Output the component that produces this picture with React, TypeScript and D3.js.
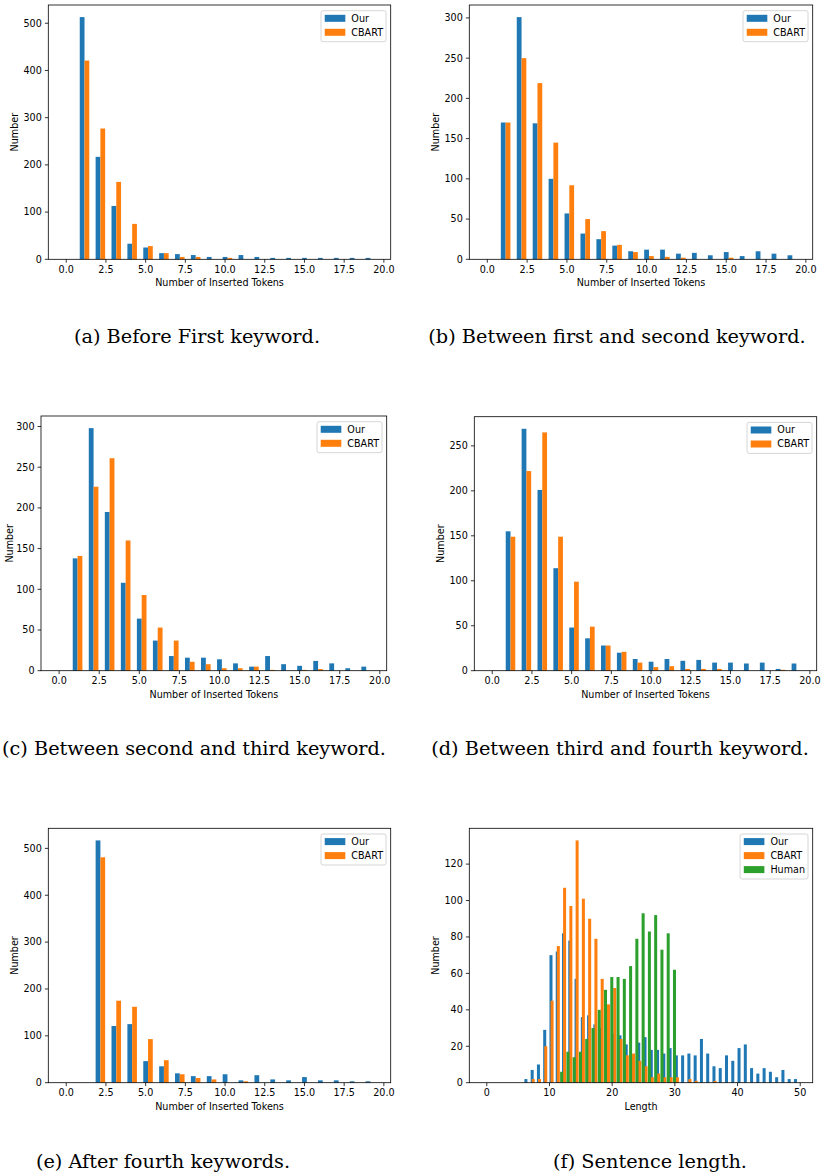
import React, { useEffect, useRef } from "react";
import * as d3 from "d3";

// number of inserted tokens (x categories for panels a-e)
const tokens = [0, 1, 2, 3, 4, 5, 6, 7, 8, 9, 10, 11, 12, 13, 14, 15, 16, 17, 18, 19];

const beforeFirstOur = [0, 513, 217, 113, 33, 25, 13, 11, 9, 5, 5, 9, 5, 3, 3, 3, 3, 3, 3, 3];
const beforeFirstCbart = [0, 421, 277, 164, 75, 28, 13, 5, 5, 0, 3, 0, 0, 0, 0, 0, 0, 0, 0, 0];

const firstSecondOur = [0, 170, 301, 169, 100, 57, 32, 25, 17, 10, 12, 12, 7, 8, 5, 9, 4, 10, 7, 5];
const firstSecondCbart = [0, 170, 250, 219, 145, 92, 50, 35, 18, 9, 4, 3, 2, 0, 0, 2, 0, 0, 0, 0];

const secondThirdOur = [0, 138, 298, 195, 108, 64, 37, 18, 16, 16, 14, 9, 5, 18, 8, 6, 12, 9, 3, 5];
const secondThirdCbart = [0, 141, 226, 261, 160, 93, 53, 37, 11, 8, 3, 3, 5, 1, 0, 1, 2, 0, 0, 0];

const thirdFourthOur = [0, 155, 269, 201, 114, 48, 36, 28, 20, 13, 10, 13, 11, 12, 9, 9, 8, 9, 2, 8];
const thirdFourthCbart = [0, 149, 222, 265, 149, 99, 49, 28, 21, 9, 4, 5, 2, 2, 2, 0, 0, 0, 1, 0];

const afterFourthOur = [0, 0, 517, 121, 125, 46, 35, 20, 14, 14, 18, 5, 16, 7, 5, 12, 5, 5, 3, 3];
const afterFourthCbart = [0, 0, 481, 175, 162, 93, 48, 18, 10, 7, 0, 3, 0, 0, 0, 0, 0, 0, 0, 0];

// sentence length bins (panel f)
const lengths = [
  0, 1, 2, 3, 4, 5, 6, 7, 8, 9, 10, 11, 12, 13, 14, 15, 16, 17, 18, 19, 20, 21, 22, 23, 24,
  25, 26, 27, 28, 29, 30, 31, 32, 33, 34, 35, 36, 37, 38, 39, 40, 41, 42, 43, 44, 45, 46, 47, 48, 49,
];
const lengthOur = [
  0, 0, 0, 0, 0, 0, 2, 7, 10, 29, 70, 72, 82, 78, 57, 36, 37, 32, 30, 28, 27, 26, 21, 14, 22,
  25, 18, 18, 16, 19, 15, 15, 16, 15, 24, 16, 9, 8, 15, 12, 19, 21, 8, 5, 8, 6, 3, 7, 2, 2,
];
const lengthCbart = [
  0, 0, 0, 0, 0, 0, 0, 2, 2, 20, 45, 75, 107, 97, 133, 101, 90, 79, 57, 43, 52, 24, 15, 16, 12,
  9, 3, 5, 3, 3, 3, 0, 2, 1, 0, 0, 1, 0, 0, 0, 0, 0, 0, 0, 0, 0, 0, 0, 0, 0,
];
const lengthHuman = [
  0, 0, 0, 0, 0, 0, 0, 0, 0, 0, 0, 0, 6, 17, 14, 17, 24, 30, 40, 51, 58, 58, 57, 64, 79,
  93, 83, 92, 73, 82, 62, 0, 0, 0, 0, 0, 0, 0, 0, 0, 0, 0, 0, 0, 0, 0, 0, 0, 0, 0,
];

const tokenTicks = [0, 2.5, 5, 7.5, 10, 12.5, 15, 17.5, 20];
const lengthTicks = [0, 10, 20, 30, 40, 50];
const ticks500 = [0, 100, 200, 300, 400, 500];
const ticks300 = [0, 50, 100, 150, 200, 250, 300];
const ticks250 = [0, 50, 100, 150, 200, 250];
const ticks120 = [0, 20, 40, 60, 80, 100, 120];

const BLUE = "#1f77b4";
const ORANGE = "#ff7f0e";
const GREEN = "#2ca02c";
const SANS = "DejaVu Sans, sans-serif";
const FS = 9.6;

const tokenPanels = [
  { our: beforeFirstOur, cbart: beforeFirstCbart, yTicks: ticks500, caption: "(a) Before First keyword.",
    box: [48.3, 390.7, 5, 259.3], capX: 197, capY: 336, yLabOff: 34 },
  { our: firstSecondOur, cbart: firstSecondCbart, yTicks: ticks300, caption: "(b) Between first and second keyword.",
    box: [469.3, 812.7, 5, 259.3], capX: 617, capY: 336, yLabOff: 34 },
  { our: secondThirdOur, cbart: secondThirdCbart, yTicks: ticks300, caption: "(c) Between second and third keyword.",
    box: [41, 386.7, 416, 670.7], capX: 194, capY: 748, yLabOff: 31 },
  { our: thirdFourthOur, cbart: thirdFourthCbart, yTicks: ticks250, caption: "(d) Between third and fourth keyword.",
    box: [474.3, 816.7, 416.7, 670.7], capX: 620, capY: 748, yLabOff: 34 },
  { our: afterFourthOur, cbart: afterFourthCbart, yTicks: ticks500, caption: "(e) After fourth keywords.",
    box: [48.3, 390.7, 828.3, 1082.7], capX: 163, capY: 1161, yLabOff: 34 },
];

function frameAndAxes(g, x, y, box, xTicks, xFmt, yTicks, xLabel, yLabOff) {
  const [l, r, t, b] = box;
  g.append("rect").attr("x", l).attr("y", t).attr("width", r - l).attr("height", b - t)
    .attr("fill", "none").attr("stroke", "#000").attr("stroke-width", 0.8);

  const xt = g.append("g");
  xTicks.forEach((v) => {
    xt.append("line").attr("x1", x(v)).attr("x2", x(v)).attr("y1", b).attr("y2", b + 3.4)
      .attr("stroke", "#000").attr("stroke-width", 0.8);
    xt.append("text").attr("x", x(v)).attr("y", b + 6.5).attr("dy", "0.71em")
      .attr("text-anchor", "middle").attr("font-size", FS).attr("font-family", SANS).text(xFmt(v));
  });
  const yt = g.append("g");
  yTicks.forEach((v) => {
    yt.append("line").attr("x1", l - 3.4).attr("x2", l).attr("y1", y(v)).attr("y2", y(v))
      .attr("stroke", "#000").attr("stroke-width", 0.8);
    yt.append("text").attr("x", l - 6.5).attr("y", y(v)).attr("dy", "0.35em")
      .attr("text-anchor", "end").attr("font-size", FS).attr("font-family", SANS).text(v);
  });
  g.append("text").attr("x", (l + r) / 2).attr("y", b + 20).attr("dy", "0.71em")
    .attr("text-anchor", "middle").attr("font-size", FS).attr("font-family", SANS).text(xLabel);
  g.append("text").attr("transform", `translate(${l - yLabOff}, ${(t + b) / 2}) rotate(-90)`)
    .attr("dy", "0.35em").attr("text-anchor", "middle").attr("font-size", FS)
    .attr("font-family", SANS).text("Number");
}

function legend(g, box, items) {
  const [, r, t] = box;
  const lg = g.append("g");
  const frame = lg.append("rect");
  const texts = [];
  items.forEach((it, i) => {
    lg.append("rect").attr("class", "patch").attr("y", t + 5.7 + 7.6 + i * 14 - 3.5)
      .attr("width", 20.6).attr("height", 7).attr("fill", it.color);
    texts.push(lg.append("text").attr("y", t + 5.7 + 7.6 + i * 14).attr("dy", "0.35em")
      .attr("font-size", FS).attr("font-family", SANS).text(it.label));
  });
  const tw = d3.max(texts, (s) => s.node().getComputedTextLength());
  const w = 30.3 + tw + 3;
  const left = r - 4.7 - w;
  frame.attr("x", left).attr("y", t + 5.7).attr("width", w).attr("height", 3 + items.length * 14)
    .attr("rx", 2).attr("fill", "#fff").attr("fill-opacity", 0.8)
    .attr("stroke", "#ccc").attr("stroke-width", 0.8);
  lg.selectAll("rect.patch").attr("x", left + 3.7);
  texts.forEach((s) => s.attr("x", left + 30.3));
}

function caption(svg, x, y, text) {
  svg.append("text").attr("x", x).attr("y", y).attr("dy", "0.35em").attr("text-anchor", "middle")
    .attr("font-size", 19.3).attr("font-family", "DejaVu Serif, serif").text(text);
}

export default function App() {
  const ref = useRef(null);

  useEffect(() => {
    const svg = d3.select(ref.current);
    svg.selectAll("*").remove();

    // token-count panels: two bars of width 0.3 per integer, blue centred on it
    const bw = 0.3;
    tokenPanels.forEach((p) => {
      const [l, r, t, b] = p.box;
      const lo = d3.min(tokens) - bw / 2;
      const hi = d3.max(tokens) + bw + bw / 2;
      const pad = (hi - lo) * 0.05;
      const x = d3.scaleLinear().domain([lo - pad, hi + pad]).range([l, r]);
      const yMax = d3.max([...p.our, ...p.cbart]) * 1.05;
      const y = d3.scaleLinear().domain([0, yMax]).range([b, t]);
      const g = svg.append("g");
      g.selectAll("rect.our").data(tokens).join("rect").attr("class", "our")
        .attr("x", (d) => x(d - bw / 2)).attr("width", (d) => x(d + bw / 2) - x(d - bw / 2))
        .attr("y", (d, i) => y(p.our[i])).attr("height", (d, i) => y(0) - y(p.our[i]))
        .attr("fill", BLUE);
      g.selectAll("rect.cbart").data(tokens).join("rect").attr("class", "cbart")
        .attr("x", (d) => x(d + bw / 2)).attr("width", (d) => x(d + bw * 1.5) - x(d + bw / 2))
        .attr("y", (d, i) => y(p.cbart[i])).attr("height", (d, i) => y(0) - y(p.cbart[i]))
        .attr("fill", ORANGE);
      frameAndAxes(g, x, y, p.box, tokenTicks, d3.format(".1f"), p.yTicks,
        "Number of Inserted Tokens", p.yLabOff);
      legend(g, p.box, [{ label: "Our", color: BLUE }, { label: "CBART", color: ORANGE }]);
      caption(svg, p.capX, p.capY, p.caption);
    });

    // sentence length panel
    const box = [469.3, 812.7, 828.3, 1082.7];
    const [l, r, t, b] = box;
    const w = 0.48;
    const series = [
      { values: lengthOur, off: 0, color: BLUE },
      { values: lengthCbart, off: 0.17, color: ORANGE },
      { values: lengthHuman, off: -0.3, color: GREEN },
    ];
    const lo = d3.min(lengths) - 0.3;
    const hi = d3.max(lengths) + 0.5;
    const pad = (hi - lo) * 0.05;
    const x = d3.scaleLinear().domain([lo - pad, hi + pad]).range([l, r]);
    const yMax = d3.max([...lengthOur, ...lengthCbart, ...lengthHuman]) * 1.05;
    const y = d3.scaleLinear().domain([0, yMax]).range([b, t]);
    const g = svg.append("g");
    series.forEach((s) => {
      g.append("g").selectAll("rect").data(lengths).join("rect")
        .attr("x", (d) => x(d + s.off)).attr("width", (d) => x(d + s.off + w) - x(d + s.off))
        .attr("y", (d, i) => y(s.values[i])).attr("height", (d, i) => y(0) - y(s.values[i]))
        .attr("fill", s.color);
    });
    frameAndAxes(g, x, y, box, lengthTicks, d3.format("d"), ticks120, "Length", 34);
    legend(g, box, [
      { label: "Our", color: BLUE },
      { label: "CBART", color: ORANGE },
      { label: "Human", color: GREEN },
    ]);
    caption(svg, 650, 1161, "(f) Sentence length.");
  }, []);

  return (
    <svg ref={ref} width={821} height={1176}
      style={{ position: "absolute", left: 0, top: 0, background: "#fff" }} />
  );
}
